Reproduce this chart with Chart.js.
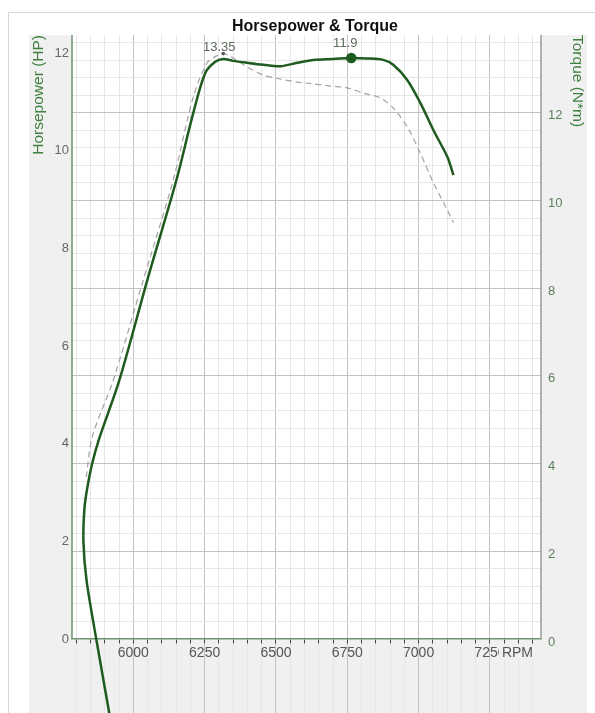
<!DOCTYPE html>
<html>
<head>
<meta charset="utf-8">
<title>Horsepower & Torque</title>
<script src="https://cdn.jsdelivr.net/npm/chart.js@4.4.0/dist/chart.umd.min.js"></script>
<style>
  html, body { margin: 0; padding: 0; background: #fff; }
  #wrap { width: 595px; height: 713px; }
</style>
</head>
<body>
<div id="wrap"><canvas id="dyno" width="595" height="713"></canvas></div>
<script>
// dyno run
var hpRpm    = [5923, 5870, 5836, 5825, 5829, 5839, 5856, 5880, 5951, 6049, 6151, 6210, 6252, 6287, 6315, 6350, 6400, 6456, 6515, 6575, 6631, 6701, 6764, 6820, 6876, 6911, 6960, 7006, 7052, 7101, 7122];
var hpValues = [-1.76, 0, 1.2, 2.0, 2.7, 3.11, 3.60, 4.10, 5.30, 7.35, 9.40, 10.77, 11.59, 11.82, 11.88, 11.84, 11.80, 11.76, 11.73, 11.80, 11.86, 11.88, 11.9, 11.89, 11.86, 11.76, 11.45, 10.98, 10.42, 9.87, 9.50];

var tqRpm    = [5835, 5856, 5930, 6035, 6140, 6210, 6259, 6298, 6315, 6350, 6400, 6456, 6515, 6575, 6631, 6691, 6750, 6806, 6866, 6911, 6960, 7006, 7052, 7101, 7122];
var tqValues = [3.69, 4.61, 5.91, 8.19, 10.47, 12.36, 13.14, 13.32, 13.35, 13.25, 13.04, 12.86, 12.77, 12.70, 12.66, 12.61, 12.57, 12.45, 12.34, 12.11, 11.68, 11.08, 10.40, 9.78, 9.49];

var hpTicks = [0, 2, 4, 6, 8, 10, 12];
var tqTicks = [0, 2, 4, 6, 8, 10, 12];
var rpmLabels = [6000, 6250, 6500, 6750, 7000, 7250];

var FONT = '"Liberation Sans", Arial, sans-serif';

function toPoints(xs, ys) {
    return xs.map(function (x, i) { return { x: x, y: ys[i] }; });
}

function peakIndex(arr) {
    return arr.indexOf(Math.max.apply(null, arr));
}

// keep side axes from padding the plot area
function fixSide(width) {
    return function (s) {
        s.width = width;
        s.paddingTop = 0;
        s.paddingBottom = 0;
    };
}

var hpPeak = peakIndex(hpValues);
var tqPeak = peakIndex(tqValues);

// page / panel backgrounds behind the plot, and the side axis lines (they stop at 0)
var backdrop = {
    id: 'backdrop',
    beforeDraw: function (chart) {
        var ctx = chart.ctx, area = chart.chartArea;
        var zeroY = chart.scales.y.getPixelForValue(0);
        ctx.save();
        ctx.fillStyle = '#fff';
        ctx.fillRect(0, 0, chart.width, chart.height);
        ctx.strokeStyle = '#d6d6d6';
        ctx.lineWidth = 1;
        ctx.beginPath();
        ctx.moveTo(8.5, chart.height);
        ctx.lineTo(8.5, 12.5);
        ctx.lineTo(chart.width, 12.5);
        ctx.stroke();
        ctx.fillStyle = '#f0f0f0';
        ctx.fillRect(29, area.top, 558, chart.height - area.top);
        ctx.fillStyle = '#fff';
        ctx.fillRect(area.left, area.top, area.right - area.left, zeroY - area.top);
        ctx.restore();
    },
    beforeDatasetsDraw: function (chart) {
        var ctx = chart.ctx, area = chart.chartArea;
        var zeroY = chart.scales.y.getPixelForValue(0);
        ctx.save();
        ctx.lineWidth = 1.5;
        ctx.strokeStyle = '#6f946f';
        ctx.beginPath();
        ctx.moveTo(area.left, area.top);
        ctx.lineTo(area.left, zeroY);
        ctx.stroke();
        ctx.strokeStyle = '#9a9a9a';
        ctx.beginPath();
        ctx.moveTo(area.right, area.top);
        ctx.lineTo(area.right, zeroY);
        ctx.stroke();
        ctx.restore();
    }
};

// peak value labels + chart title + RPM unit
var labels = {
    id: 'labels',
    afterDatasetsDraw: function (chart) {
        var ctx = chart.ctx;
        ctx.save();
        ctx.font = '13px ' + FONT;
        ctx.fillStyle = '#5c6b5c';
        ctx.textAlign = 'center';
        ctx.textBaseline = 'bottom';
        // [dataset, index, values, dx, dy]
        [[0, hpPeak, hpValues, -6, -8], [1, tqPeak, tqValues, -4, 0]].forEach(function (p) {
            var el = chart.getDatasetMeta(p[0]).data[p[1]];
            ctx.fillText(String(p[2][p[1]]), el.x + p[3], el.y + p[4]);
        });
        ctx.restore();
    },
    afterDraw: function (chart) {
        var ctx = chart.ctx;
        var zeroY = chart.scales.y.getPixelForValue(0);
        ctx.save();
        ctx.font = 'bold 16px ' + FONT;
        ctx.fillStyle = '#111';
        ctx.textAlign = 'center';
        ctx.textBaseline = 'middle';
        ctx.fillText('Horsepower & Torque', 315, 27);

        ctx.font = '14px ' + FONT;
        ctx.fillStyle = '#f0f0f0';
        ctx.fillRect(499, zeroY + 6, 37, 15);
        ctx.fillStyle = '#555';
        ctx.textAlign = 'right';
        ctx.textBaseline = 'top';
        ctx.fillText('RPM', 533, zeroY + 7);
        ctx.restore();
    }
};

var ctx = document.getElementById('dyno').getContext('2d');
var dynoChart = new Chart(ctx, {
    type: 'line',
    data: {
        datasets: [{
            label: 'Horsepower',
            data: toPoints(hpRpm, hpValues),
            yAxisID: 'y',
            borderColor: '#1f5a1f',
            backgroundColor: '#1f5a1f',
            borderWidth: 2.5,
            tension: 0.3,
            pointRadius: function (c) { return c.dataIndex === hpPeak ? 4 : 0; },
            fill: false
        }, {
            label: 'Torque',
            data: toPoints(tqRpm, tqValues),
            yAxisID: 'y1',
            borderColor: '#a3a3a3',
            backgroundColor: '#555',
            borderWidth: 1.2,
            borderDash: [6, 4],
            tension: 0.3,
            pointRadius: function (c) { return c.dataIndex === tqPeak ? 1.8 : 0; },
            pointBorderWidth: 0,
            fill: false
        }]
    },
    options: {
        responsive: false,
        animation: false,
        layout: { autoPadding: false, padding: { left: 29, right: 8, top: 35, bottom: 0 } },
        plugins: {
            legend: { display: false },
            tooltip: { enabled: false }
        },
        scales: {
            x: {
                type: 'linear',
                position: { y: 0 },
                min: 5785,
                max: 7429,
                afterFit: function (s) { s.height = 0; s.paddingLeft = 0; s.paddingRight = 0; },
                grid: {
                    color: function (c) { return c.tick && c.tick.value % 250 === 0 ? '#c2c2c2' : '#e6e6e6'; },
                    tickColor: '#444',
                    tickLength: 4,
                    lineWidth: 1
                },
                border: { color: '#6f946f', width: 1.5 },
                ticks: {
                    stepSize: 50,
                    includeBounds: false,
                    autoSkip: false,
                    maxRotation: 0,
                    padding: 2,
                    color: '#555',
                    font: { family: FONT, size: 14 },
                    callback: function (v) { return rpmLabels.indexOf(v) >= 0 ? String(v) : ''; }
                }
            },
            y: {
                position: 'left',
                min: -1.515,
                max: 12.37,
                afterBuildTicks: function (s) { s.ticks = hpTicks.map(function (v) { return { value: v }; }); },
                afterFit: fixSide(43),
                grid: { display: false, drawTicks: false, tickLength: 0 },
                border: { display: false },
                ticks: { padding: 3, color: '#666', font: { family: FONT, size: 13 } },
                title: {
                    display: true,
                    text: 'Horsepower (HP)',
                    align: 'end',
                    color: '#3f7f3f',
                    padding: 0,
                    font: { family: FONT, size: 15.5 }
                }
            },
            y1: {
                position: 'right',
                min: -1.688,
                max: 13.774,
                afterBuildTicks: function (s) { s.ticks = s.ticks.filter(function (t) { return t.value >= 0; }); },
                afterFit: fixSide(46),
                grid: {
                    color: function (c) { return c.tick && tqTicks.indexOf(c.tick.value) >= 0 ? '#c2c2c2' : '#e6e6e6'; },
                    drawTicks: false
                },
                border: { display: false },
                ticks: {
                    stepSize: 0.4,
                    includeBounds: false,
                    autoSkip: false,
                    padding: 7,
                    labelOffset: 3,
                    color: '#5b7f5b',
                    font: { family: FONT, size: 13 },
                    callback: function (v) { return tqTicks.indexOf(v) >= 0 ? String(v) : ''; }
                },
                title: {
                    display: true,
                    text: 'Torque (N*m)',
                    align: 'end',
                    color: '#3f7f3f',
                    padding: 0,
                    font: { family: FONT, size: 15.5 }
                }
            }
        }
    },
    plugins: [backdrop, labels]
});
</script>
</body>
</html>
